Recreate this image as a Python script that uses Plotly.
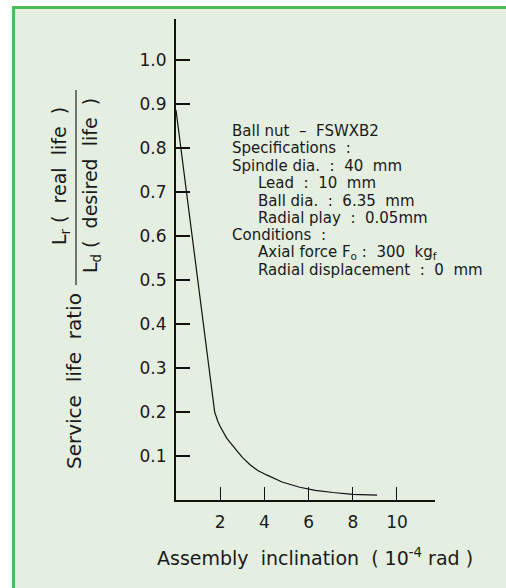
import plotly.graph_objects as go

# Data
inclination = [0, 1.66, 1.75, 1.9, 2.0, 2.3, 2.6, 3.0, 3.35, 3.7, 4.1, 4.8, 5.6, 6.3, 7.1, 8.0, 9.1]
life_ratio = [0.886, 0.223, 0.200, 0.178, 0.167, 0.140, 0.121, 0.097, 0.080, 0.067, 0.057, 0.041,
              0.029, 0.022, 0.017, 0.013, 0.011]
x_ticks = [2, 4, 6, 8, 10]
y_ticks = [0.1, 0.2, 0.3, 0.4, 0.5, 0.6, 0.7, 0.8, 0.9, 1.0]
spec_lines = [
    ("Ball nut  –  FSWXB2", 0),
    ("Specifications  :", 0),
    ("Spindle dia.  :  40  mm", 0),
    ("Lead  :  10  mm", 1),
    ("Ball dia.  :  6.35  mm", 1),
    ("Radial play  :  0.05mm", 1),
    ("Conditions  :", 0),
    ("Axial force F<sub>o</sub> :  300  kg<sub>f</sub>", 1),
    ("Radial displacement  :  0  mm", 1),
]

W, H = 506, 588
L, R, T, B = 176, 435, 19, 500
pw, ph = R - L, B - T


def px(x):
    return (x - L) / pw


def py(y):
    return (B - y) / ph


FONT = "DejaVu Sans"
TXT = "#1a1a1a"
BG = "#e4eee1"
GREEN = "#4cbd58"

fig = go.Figure()
fig.add_trace(go.Scatter(x=inclination, y=life_ratio, mode="lines",
                         line=dict(color="#111111", width=1.2), hoverinfo="skip",
                         showlegend=False))

shapes = [
    dict(type="rect", xref="paper", yref="paper", x0=px(13.5), x1=px(W + 20),
         y0=py(H + 20), y1=py(7.5), fillcolor=BG, line=dict(color=GREEN, width=3), layer="below"),
    # fraction bar of the y-axis title
    dict(type="line", xref="paper", yref="paper", x0=px(76), x1=px(76), y0=py(285), y1=py(90),
         line=dict(color="#333333", width=1.3)),
]

annotations = []
y0 = 131
for i, (txt, ind) in enumerate(spec_lines):
    annotations.append(dict(text=txt, xref="paper", yref="paper", x=px(230 + 26 * ind),
                            y=py(y0 + i * 17.4), xanchor="left", yanchor="middle", showarrow=False,
                            font=dict(family=FONT, size=15, color=TXT)))

annotations += [
    dict(text="Service  life  ratio", xref="paper", yref="paper", x=px(74), y=py(381),
         textangle=-90, showarrow=False, xanchor="center", yanchor="middle",
         font=dict(family=FONT, size=20, color=TXT)),
    dict(text="L<sub>r</sub> (  real  life  )", xref="paper", yref="paper", x=px(61), y=py(176),
         textangle=-90, showarrow=False, xanchor="center", yanchor="middle",
         font=dict(family=FONT, size=19, color=TXT)),
    dict(text="L<sub>d</sub> (  desired  life  )", xref="paper", yref="paper", x=px(92), y=py(186),
         textangle=-90, showarrow=False, xanchor="center", yanchor="middle",
         font=dict(family=FONT, size=19, color=TXT)),
    dict(text="Assembly  inclination  ( 10<sup>-4</sup> rad )", xref="paper", yref="paper",
         x=px(315), y=py(557), showarrow=False, xanchor="center", yanchor="middle",
         font=dict(family=FONT, size=19, color=TXT)),
]

fig.update_layout(
    width=W, height=H,
    margin=dict(l=L, r=W - R, t=T, b=H - B, pad=0),
    paper_bgcolor="white", plot_bgcolor="rgba(0,0,0,0)",
    shapes=shapes, annotations=annotations, showlegend=False,
    xaxis=dict(range=[0, 11.72], tickvals=x_ticks, ticktext=[str(v) for v in x_ticks],
               ticks="inside", ticklen=13, tickwidth=1.3, tickcolor="#111111",
               showline=True, linewidth=2, linecolor="#111111", showgrid=False, zeroline=False,
               ticklabelstandoff=6,
               tickfont=dict(family=FONT, size=17, color=TXT)),
    yaxis=dict(range=[0, 1.093], tickvals=y_ticks, ticktext=[f"{v:.1f}" for v in y_ticks],
               ticks="inside", ticklen=14, tickwidth=1.6, tickcolor="#111111",
               showline=True, linewidth=2, linecolor="#111111", showgrid=False, zeroline=False,
               ticklabelstandoff=4,
               tickfont=dict(family=FONT, size=17, color=TXT)),
)

fig.write_html("out.html", config={"displayModeBar": False},
               post_script="document.body.style.margin='0';document.body.style.overflow='hidden';")
